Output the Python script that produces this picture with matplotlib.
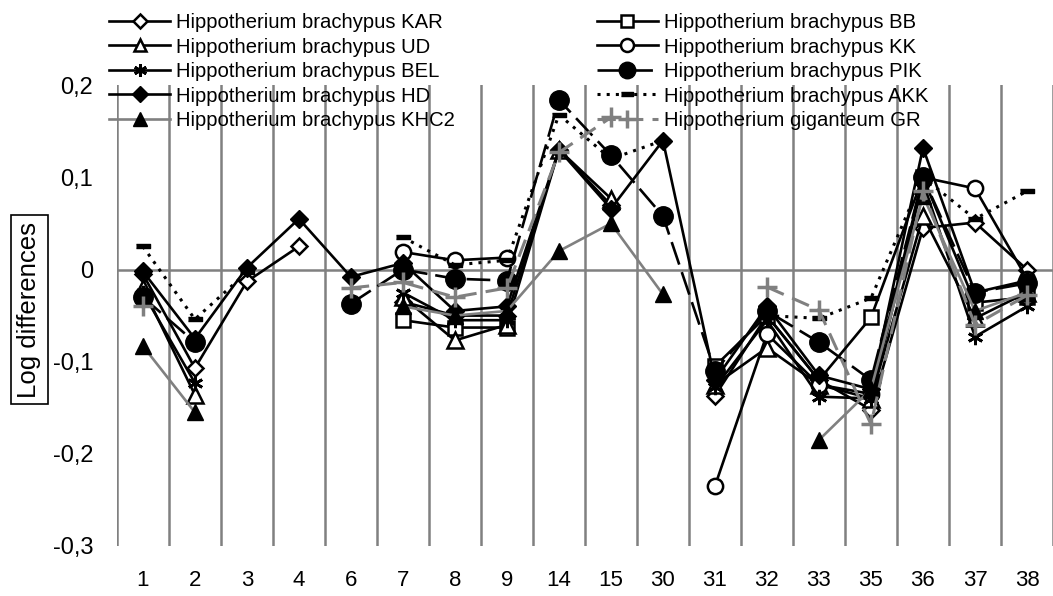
import numpy as np
import matplotlib.pyplot as plt

plt.rcParams['font.family'] = ['Liberation Sans', 'DejaVu Sans']

nan = np.nan
cats = ['1', '2', '3', '4', '6', '7', '8', '9', '14', '15', '30', '31', '32', '33', '35', '36', '37', '38']
ytick_vals = [-0.3, -0.2, -0.1, 0, 0.1, 0.2]
ytick_labels = ['-0,3', '-0,2', '-0,1', '0', '0,1', '0,2']

#        1       2       3      4      6       7       8       9      14     15     30      31      32      33      35      36     37      38
kar  = [-0.005, -0.107, -0.013, 0.025, nan,   -0.035, -0.05,  -0.05,  0.13,  0.07,  nan,   -0.137, -0.05,  -0.12,  -0.152, 0.045, 0.051,  0.0]
ud   = [-0.02,  -0.136, nan,    nan,   nan,   -0.03,  -0.077, -0.06,  0.13,  0.077, nan,   -0.125, -0.085, -0.125, -0.14,  0.058, -0.053, -0.025]
bel  = [-0.025, -0.123, nan,    nan,   nan,   -0.025, -0.055, -0.055, nan,   nan,   nan,   -0.128, -0.055, -0.138, -0.14,  0.095, -0.073, -0.04]
hd   = [-0.002, -0.075, 0.002,  0.055, -0.008, 0.007, -0.045, -0.04,  0.13,  0.066, 0.14,  -0.12,  -0.04,  -0.115, -0.13,  0.132, -0.025, -0.012]
khc2 = [-0.083, -0.155, nan,    nan,   nan,   -0.04,  -0.05,  -0.045, 0.02,  0.05,  -0.027, nan,   nan,    -0.185, -0.13,  0.08,  -0.045, -0.025]
bb   = [nan,    nan,    nan,    nan,   nan,   -0.055, -0.063, -0.063, nan,   nan,   nan,   -0.105, -0.05,  -0.12,  -0.052, 0.1,   -0.036, -0.03]
kk   = [nan,    nan,    nan,    nan,   nan,   0.019,  0.01,   0.013,  nan,   nan,   nan,   -0.235, -0.07,  -0.125, -0.135, 0.1,   0.088,  -0.01]
pik  = [-0.03,  -0.079, nan,    nan,   -0.037, 0.0,   -0.01,  -0.012, 0.184, 0.124, 0.058, -0.11,  -0.045, -0.079, -0.12,  0.1,   -0.025, -0.015]
akk  = [0.025,  -0.054, -0.003, nan,   nan,   0.035,  0.005,  0.01,   0.168, 0.12,  0.14,  nan,    -0.05,  -0.053, -0.031, 0.1,   0.055,  0.085]
gr   = [-0.04,  nan,    nan,    nan,   -0.02, -0.014, -0.03,  -0.02,  0.127, 0.165, nan,   nan,    -0.019, -0.044, -0.168, 0.085, -0.06,  -0.028]

x = np.arange(len(cats))
grey = '#808080'
dash_bar = [(-1, -0.35), (1, -0.35), (1, 0.35), (-1, 0.35)]

fig = plt.figure(figsize=(10.53, 5.96), dpi=100)
ax = fig.add_axes([0.111, 0.084, 0.889, 0.773])

for b in np.arange(-0.5, len(cats), 1.0):
    ax.plot([b, b], [-0.3, 0.2], color=grey, lw=1.8, zorder=0)
ax.axhline(0, color=grey, lw=1.8, zorder=0)

lw = 1.9
h = {}
h['KAR'], = ax.plot(x, kar, color='black', lw=lw, marker='D', ms=8, mfc='white', mec='black', mew=1.8)
h['BB'], = ax.plot(x, bb, color='black', lw=lw, marker='s', ms=10, mfc='white', mec='black', mew=1.8)
h['UD'], = ax.plot(x, ud, color='black', lw=lw, marker='^', ms=11, mfc='white', mec='black', mew=1.8)
h['KK'], = ax.plot(x, kk, color='black', lw=lw, marker='o', ms=11, mfc='white', mec='black', mew=1.8)
h['BEL'], = ax.plot(x, bel, color='black', lw=lw, marker=(6, 2, 0), ms=11, mec='black', mew=2)
h['PIK'], = ax.plot(x, pik, color='black', lw=lw, dashes=(9, 3), marker='o', ms=14, mfc='black', mec='black')
h['HD'], = ax.plot(x, hd, color='black', lw=lw, marker='D', ms=9, mfc='black', mec='black')
h['AKK'], = ax.plot(x, akk, color='black', lw=2.2, ls=(0, (1, 2)), marker=dash_bar, ms=10, mfc='black', mec='black')
h['KHC2'], = ax.plot(x, khc2, color=grey, lw=lw, marker='^', ms=12, mfc='black', mec='black')
h['GR'], = ax.plot(x, gr, color=grey, lw=2.2, dashes=(6, 3), marker='+', ms=15, mec=grey, mew=2.5)

ax.set_xlim(-0.5, len(cats) - 0.5)
ax.set_ylim(-0.3, 0.2)
ax.set_xticks(x)
ax.set_xticklabels(cats, fontsize=16)
ax.set_yticks(ytick_vals)
ax.set_yticklabels(ytick_labels, fontsize=17)
ax.tick_params(axis='both', length=0)
ax.tick_params(axis='x', pad=17)
ax.tick_params(axis='y', pad=17)
for s in ax.spines.values():
    s.set_visible(False)

fig.text(0.028, 0.48, 'Log differences', rotation=90, fontsize=18.5, ha='center', va='center',
         bbox=dict(boxstyle='square,pad=0.25', fc='white', ec='black', lw=1.2))

order = ['KAR', 'UD', 'BEL', 'HD', 'KHC2', 'BB', 'KK', 'PIK', 'AKK', 'GR']
names = {k: 'Hippotherium brachypus ' + k for k in order}
names['GR'] = 'Hippotherium giganteum GR'
fig.legend([h[k] for k in order], [names[k] for k in order], ncol=2, loc='upper left',
           bbox_to_anchor=(0.094, 0.995), frameon=False, fontsize=14.6, borderpad=0,
           handlelength=3.0, handletextpad=0.3, columnspacing=7.0, labelspacing=0.27,
           markerscale=0.85)

fig.savefig('out.png', dpi=100)
